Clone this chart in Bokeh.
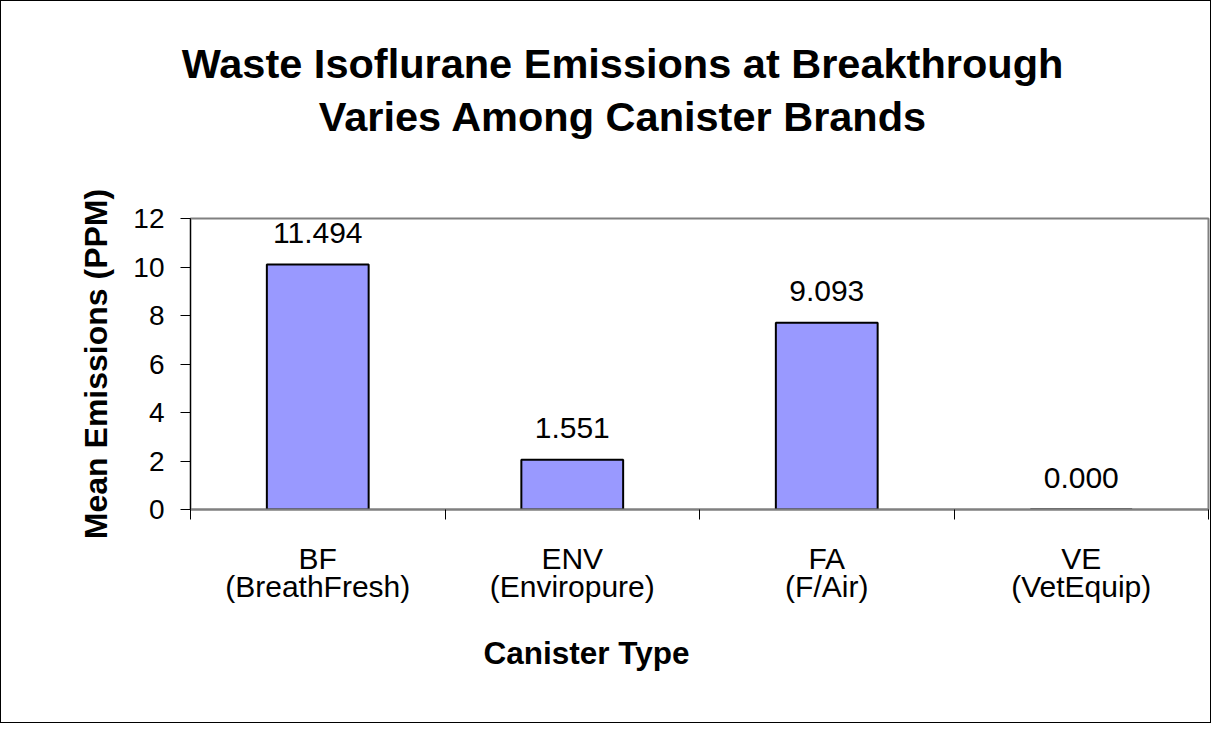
from bokeh.plotting import figure
from bokeh.models import (Range1d, FixedTicker, LinearAxis, Title, LabelSet,
                          ColumnDataSource, Div)
from bokeh.layouts import column
from bokeh.core.properties import value
from bokeh.embed import file_html
from bokeh.resources import INLINE

# ---- data ----
codes = ["BF", "ENV", "FA", "VE"]
brands = ["(BreathFresh)", "(Enviropure)", "(F/Air)", "(VetEquip)"]
bar_heights = [10.1, 2.05, 7.7, 0.0]
value_labels = ["11.494", "1.551", "9.093", "0.000"]
y_ticks = [0, 2, 4, 6, 8, 10, 12]
title_lines = ["Waste Isoflurane Emissions at Breakthrough",
               "Varies Among Canister Brands"]
x_title = "Canister Type"
y_title = "Mean Emissions (PPM)"

FONT = "Liberation Sans"
n = len(codes)
centers = [i + 0.5 for i in range(n)]
bounds = list(range(n + 1))
src = ColumnDataSource(dict(x=centers, top=bar_heights, lab=value_labels))

W, H_TOTAL = 1209, 721
D = 150                      # height of the title block
H = H_TOTAL - D
FRAME_TOP, FRAME_BOTTOM = 217, 508

# ---- title block ----
lines_html = "".join(f"<div>{t}</div>" for t in title_lines)
title_div = Div(
    text=(f'<div style="width:1243px;text-align:center;white-space:nowrap;'
          f'font-family:\'{FONT}\';font-size:41.5px;font-weight:bold;'
          f'line-height:53px;color:black;padding-top:36px;">{lines_html}</div>'),
    width=W, height=D, margin=0)

p = figure(width=W, height=H, output_backend="svg", toolbar_location=None,
           x_range=Range1d(0, n), y_range=Range1d(0, 12),
           min_border_left=189, min_border_right=2,
           min_border_top=FRAME_TOP - D, min_border_bottom=H - (FRAME_BOTTOM - D),
           x_axis_type=None, y_axis_type=None, margin=0)
p.outline_line_color = "#808080"
p.outline_line_width = 2
p.background_fill_color = "white"
p.border_fill_color = "white"

# y axis
ya = LinearAxis(ticker=FixedTicker(ticks=y_ticks), axis_label=y_title)
ya.axis_line_color = "black"
ya.major_tick_line_color = "black"
ya.major_tick_out = 10
ya.major_tick_in = 0
ya.minor_tick_line_color = None
ya.major_label_text_font = FONT
ya.major_label_text_font_size = "28px"
ya.major_label_text_color = "black"
ya.major_label_standoff = 16
ya.axis_label_text_font = FONT
ya.axis_label_text_font_size = "32px"
ya.axis_label_text_font_style = "bold"
ya.axis_label_text_color = "black"
ya.axis_label_standoff = 16
p.add_layout(ya, "left")

# x axis: category codes, boundary ticks as minor ticks
xa = LinearAxis(ticker=FixedTicker(ticks=centers, minor_ticks=bounds),
                major_label_overrides={c: s for c, s in zip(centers, codes)})
xa.axis_line_color = "#808080"
xa.axis_line_width = 2
xa.major_tick_line_color = None
xa.major_tick_out = 0
xa.major_tick_in = 0
xa.minor_tick_line_color = "black"
xa.minor_tick_out = 10
xa.minor_tick_in = 0
xa.major_label_text_font = FONT
xa.major_label_text_font_size = "30px"
xa.major_label_text_color = "black"
xa.major_label_standoff = 22
p.add_layout(xa, "below")

xa2 = LinearAxis(ticker=FixedTicker(ticks=centers),
                 major_label_overrides={c: s for c, s in zip(centers, brands)})
xa2.axis_line_color = None
xa2.major_tick_line_color = None
xa2.major_tick_out = 0
xa2.major_tick_in = 0
xa2.minor_tick_line_color = None
xa2.major_label_text_font = FONT
xa2.major_label_text_font_size = "30px"
xa2.major_label_text_color = "black"
xa2.major_label_standoff = -8
p.add_layout(xa2, "below")

# x title below the axes, shifted to its place with offset
p.add_layout(Title(text=x_title, align="left", offset=293, standoff=54,
                   text_font=FONT, text_font_size="31.5px",
                   text_font_style="bold", text_color="black"), "below")

p.xgrid.visible = False
p.ygrid.ticker = FixedTicker(ticks=y_ticks[1:-1])
p.ygrid.grid_line_color = "#222222"
p.ygrid.grid_line_width = 1

p.vbar(x="x", top="top", width=0.4, source=src,
       fill_color="#9999FF", line_color="black", line_width=2)

p.add_layout(LabelSet(x="x", y="top", text="lab", source=src,
                      text_align="center", text_baseline="middle",
                      y_offset=32, text_font=value(FONT),
                      text_font_size=value("30px"), text_color="black"))

layout = column(title_div, p, spacing=0,
                styles={"border": "1px solid black", "background": "white"})

open("out.html", "w").write(file_html(layout, INLINE))
